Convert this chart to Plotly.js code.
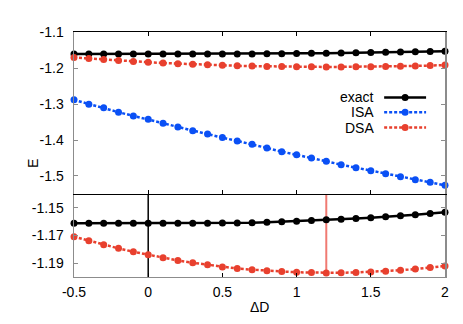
<!DOCTYPE html>
<html>
<head>
<meta charset="utf-8">
<script src="https://cdn.plot.ly/plotly-3.0.1.min.js"></script>
<style>body{margin:0;background:#fff}</style>
</head>
<body>
<div id="graphics" style="width:463px;height:324px"></div>
<script>
var dD = [-0.5,-0.4,-0.3,-0.2,-0.1,0,0.1,0.2,0.3,0.4,0.5,0.6,0.7,0.8,0.9,1.0,1.1,1.2,1.3,1.4,1.5,1.6,1.7,1.8,1.9,2.0];
var exact = [-1.1612,-1.1612,-1.1612,-1.1612,-1.1612,-1.1611,-1.1611,-1.1611,-1.1611,-1.1611,-1.1610,-1.1609,
             -1.1608,-1.1605,-1.1601,-1.1597,-1.1592,-1.1587,-1.1582,-1.1577,-1.1571,-1.1565,-1.1558,-1.1550,-1.1541,-1.1532];
var isa = [-1.2885,-1.3005,-1.3107,-1.3228,-1.3330,-1.3423,-1.3534,-1.3637,-1.3740,-1.3831,-1.3934,-1.4026,
           -1.4118,-1.4221,-1.4324,-1.4407,-1.4500,-1.4592,-1.4686,-1.4769,-1.4853,-1.4937,-1.5020,-1.5104,-1.5176,-1.5260];
var dsa = [-1.1709,-1.1738,-1.1767,-1.1793,-1.1818,-1.1839,-1.1861,-1.1880,-1.1897,-1.1912,-1.1927,-1.1939,
           -1.1947,-1.1955,-1.1961,-1.1966,-1.1968,-1.1971,-1.1969,-1.1967,-1.1963,-1.1958,-1.1951,-1.1943,-1.1932,-1.1920];

var names = ['exact', 'ISA', 'DSA'];
var colors = ['#000000', '#0a50f5', '#e8402e'];

var xTicks = [-0.5, 0, 0.5, 1, 1.5, 2];
var xLabels = ['-0.5', '0', '0.5', '1', '1.5', '2'];
var topTicks = [-1.1, -1.2, -1.3, -1.4, -1.5];
var topLabels = ['-1.1', '-1.2', '-1.3', '-1.4', '-1.5'];
var botTicks = [-1.15, -1.17, -1.19];
var botLabels = ['-1.15', '-1.17', '-1.19'];

// position of the DSA minimum, marked in the lower panel
var iMin = 0;
for (var i = 1; i < dsa.length; i++) if (dsa[i] < dsa[iMin]) iMin = i;

function line(y, k, xa, ya) {
  return {
    x: dD, y: y, xaxis: xa, yaxis: ya,
    type: 'scatter', mode: 'lines+markers', cliponaxis: false, showlegend: false,
    line: {color: colors[k], width: 2.5, dash: k == 0 ? 'solid' : '3px,2px'},
    marker: {color: colors[k], size: 7}
  };
}

var traces = [
  line(exact, 0, 'x2', 'y'),
  line(isa, 1, 'x2', 'y'),
  line(dsa, 2, 'x2', 'y'),
  line(exact, 0, 'x', 'y2'),
  line(dsa, 2, 'x', 'y2')
];

var font = {family: 'Liberation Sans, Arial, sans-serif', size: 14, color: '#000'};

// hand made key: label on the left, sample on the right
var shapes = [
  {type: 'line', xref: 'x', yref: 'y2 domain', x0: 0, x1: 0, y0: 0, y1: 1,
   line: {color: '#000', width: 1.5}, layer: 'below'},
  {type: 'line', xref: 'x', yref: 'y2', x0: dD[iMin], x1: dD[iMin], y0: dsa[iMin], y1: -1.14,
   line: {color: '#f07a72', width: 2}, layer: 'below'}
];
var annotations = [
  {text: 'E', xref: 'paper', yref: 'paper', x: -0.138, y: 0.465, showarrow: false,
   textangle: -90, font: font},
  {text: '\u0394D', xref: 'paper', yref: 'paper', x: 0.5, y: -0.165, showarrow: false, font: font}
];
var keyY = [0.733, 0.672, 0.61];
for (var k = 0; k < 3; k++) {
  annotations.push({text: names[k], xref: 'paper', yref: 'paper', x: 0.815, y: keyY[k],
    xanchor: 'right', yanchor: 'middle', showarrow: false, font: font});
  shapes.push({type: 'line', xref: 'paper', yref: 'paper', x0: 0.836, x1: 0.949, y0: keyY[k], y1: keyY[k],
    line: {color: colors[k], width: 2.5, dash: k == 0 ? 'solid' : '3px,2px'}});
  shapes.push({type: 'circle', xref: 'paper', yref: 'paper', xsizemode: 'pixel', ysizemode: 'pixel',
    xanchor: 0.8925, yanchor: keyY[k], x0: -3.5, x1: 3.5, y0: -3.5, y1: 3.5,
    fillcolor: colors[k], line: {width: 0}});
}

var gray = '#8c8c8c';
var layout = {
  width: 463, height: 324,
  margin: {l: 74, r: 18, t: 32, b: 47},
  paper_bgcolor: '#fff', plot_bgcolor: '#fff',
  font: font,
  showlegend: false,
  xaxis: {anchor: 'y2', range: [-0.5, 2], tickvals: xTicks, ticktext: xLabels,
    showgrid: false, zeroline: false, showline: true, linecolor: gray, linewidth: 1,
    ticks: 'inside', ticklen: 4, tickcolor: '#000', mirror: false, ticklabelstandoff: 2},
  xaxis2: {anchor: 'y', matches: 'x', range: [-0.5, 2], tickvals: xTicks, showticklabels: false,
    showgrid: false, zeroline: false, showline: true, linecolor: '#000', linewidth: 1,
    ticks: 'inside', ticklen: 4, tickcolor: '#000', mirror: 'ticks'},
  xaxis3: {anchor: 'y2', overlaying: 'x', side: 'top', range: [-0.5, 2], tickvals: xTicks, showticklabels: false,
    showgrid: false, zeroline: false, showline: true, linecolor: '#000', linewidth: 1,
    ticks: 'inside', ticklen: 4, tickcolor: '#000'},
  yaxis: {domain: [0.3388, 1], anchor: 'x2', range: [-1.55, -1.1], tickvals: topTicks, ticktext: topLabels,
    showgrid: false, zeroline: false, showline: true, linecolor: gray, linewidth: 1.5,
    ticks: 'inside', ticklen: 4, tickcolor: gray, mirror: 'ticks', ticklabelstandoff: 6},
  yaxis2: {domain: [0, 0.3388], anchor: 'x', range: [-1.2, -1.14], tickvals: botTicks, ticktext: botLabels,
    showgrid: false, zeroline: false, showline: true, linecolor: gray, linewidth: 1.5,
    ticks: 'inside', ticklen: 4, tickcolor: gray, mirror: 'ticks', ticklabelstandoff: 6},
  shapes: shapes,
  annotations: annotations
};

Plotly.newPlot('graphics', traces, layout, {displayModeBar: false, staticPlot: true});
</script>
</body>
</html>
